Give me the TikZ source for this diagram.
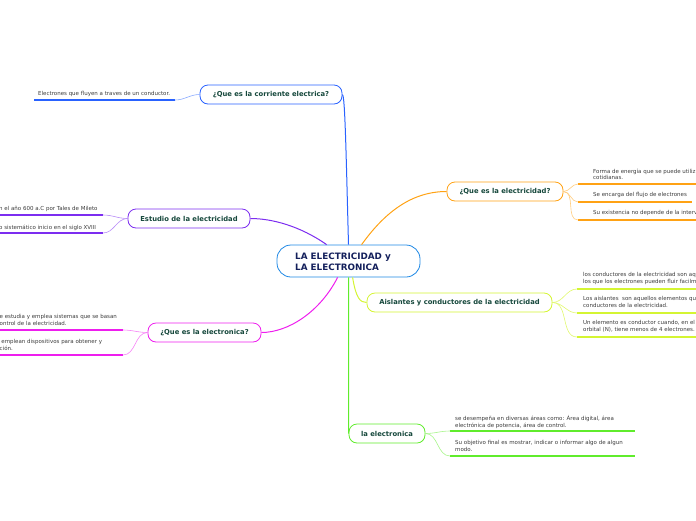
\documentclass[tikz,border=0pt]{standalone}
\usepackage{fontspec}
\setmainfont{DejaVu Sans}
\usetikzlibrary{positioning,calc}
\definecolor{azulcentro}{RGB}{30,136,229}
\definecolor{azul}{RGB}{41,98,255}
\definecolor{morado}{RGB}{124,45,240}
\definecolor{magenta}{RGB}{238,30,238}
\definecolor{naranja}{RGB}{255,162,20}
\definecolor{lima}{RGB}{212,245,50}
\definecolor{verde}{RGB}{96,236,44}
\definecolor{textotema}{RGB}{22,72,60}
\definecolor{textocentro}{RGB}{20,32,92}
\definecolor{textohoja}{RGB}{60,60,60}

\begin{document}
\begin{tikzpicture}[x=1pt, y=-1pt,
  tema/.style={draw, rounded corners=8pt, line width=0.8pt, fill=white,
    minimum height=19pt, inner sep=0pt, text=textotema,
    font=\fontsize{6.8}{8}\selectfont\bfseries},
  hoja/.style={anchor=north west, align=left, inner sep=0pt, text=textohoja,
    font=\fontsize{5.5}{6.6}\selectfont},
  rama/.style={line width=1pt},
  ramita/.style={line width=0.6pt},
  raya/.style={line width=1.3pt}]
  \useasboundingbox (0,0) rectangle (696,520);

  % nodo central
  \node[draw=azulcentro, line width=0.8pt, rounded corners=14pt, fill=white,
    minimum width=143pt, minimum height=32pt, inner sep=0pt]
    (centro) at (348.5,261) {};
  \node[anchor=west, align=left, inner sep=0pt, text=textocentro,
    font=\fontsize{8.8}{11}\selectfont\bfseries]
    (titulo) at (295,261.5) {LA ELECTRICIDAD y\\LA ELECTRONICA};

  % temas
  \node[tema, draw=azul, minimum width=142pt] (corriente) at (271,94.5) {¿Que es la corriente electrica?};
  \node[tema, draw=morado, minimum width=122pt] (estudio) at (189,218.5) {Estudio de la electricidad};
  \node[tema, draw=magenta, minimum width=113pt] (electronicaq) at (204.5,332.5) {¿Que es la electronica?};
  \node[tema, draw=naranja, minimum width=116pt] (electricidadq) at (505,191.5) {¿Que es la electricidad?};
  \node[tema, draw=lima, minimum width=185pt] (aislantes) at (459.5,302.5) {Aislantes y conductores de la electricidad};
  \node[tema, draw=verde, minimum width=76pt] (laelectronica) at (387,433.5) {la electronica};

  % ramas desde el centro
  \draw[rama, azul] (centro.north) .. controls (346,150) and (345,96) .. (corriente.east);
  \draw[rama, morado] ($(centro.north west)+(50,0)$) .. controls (300,226) and (272,218.5) .. (estudio.east);
  \draw[rama, naranja] ($(centro.north west)+(85,0)$) .. controls (385,212) and (412,191.5) .. (electricidadq.west);
  \draw[rama, magenta] ($(centro.south west)+(61,0)$) .. controls (320,312) and (288,332.5) .. (electronicaq.east);
  \draw[rama, lima] ($(centro.south west)+(76,0)$) .. controls (356,298) and (360,302.5) .. (aislantes.west);
  \draw[rama, verde] (centro.south) -- (laelectronica.west);

  % hojas: corriente
  \node[hoja] (h1) at (38,91.4) {Electrones que fluyen a traves de un conductor.};
  \coordinate (r1a) at (175,100); \coordinate (r1b) at (34,100);
  \draw[raya, azul] (r1a) -- (r1b);
  \draw[ramita, azul!55] (corriente.west) to[out=180, in=0] (r1a);

  % hojas: estudio
  \node[hoja] (h2) at (-1,206.4) {n el año 600 a.C por Tales de Mileto};
  \node[hoja] (h3) at (-1,224.4) {o sistemático inicio en el siglo XVIII};
  \coordinate (r2a) at (103,215); \coordinate (r2b) at (0,215);
  \coordinate (r3a) at (103,233); \coordinate (r3b) at (0,233);
  \draw[raya, morado] (r2a) -- (r2b);
  \draw[raya, morado] (r3a) -- (r3b);
  \draw[ramita, morado!55] (estudio.west) to[out=180, in=0] (r2a);
  \draw[ramita, morado!55] (estudio.west) to[out=180, in=0] (r3a);

  % hojas: que es la electronica
  \node[hoja] (h4) at (-0.5,314.4) {e estudia y emplea sistemas que se basan\\ontrol de la electricidad.};
  \node[hoja] (h5) at (-0.5,339.4) {\ emplean dispositivos para obtener y\\ción.};
  \coordinate (r4a) at (123,330); \coordinate (r4b) at (0,330);
  \coordinate (r5a) at (123,355); \coordinate (r5b) at (0,355);
  \draw[raya, magenta] (r4a) -- (r4b);
  \draw[raya, magenta] (r5a) -- (r5b);
  \draw[ramita, magenta!55] (electronicaq.west) to[out=180, in=0] (r4a);
  \draw[ramita, magenta!55] (electronicaq.west) to[out=180, in=0] (r5a);

  % hojas: que es la electricidad
  \node[hoja] (h6) at (593,168.4) {Forma de energía que se puede utiliz\\cotidianas.};
  \node[hoja] (h7) at (593,192.4) {Se encarga del flujo de electrones};
  \node[hoja] (h8) at (593,210.4) {Su existencia no depende de la interv};
  \coordinate (r6a) at (578,184); \coordinate (r6b) at (696,184);
  \coordinate (r7a) at (578,202); \coordinate (r7b) at (692,202);
  \coordinate (r8a) at (578,220); \coordinate (r8b) at (696,220);
  \draw[raya, naranja] (r6a) -- (r6b);
  \draw[raya, naranja] (r7a) -- (r7b);
  \draw[raya, naranja] (r8a) -- (r8b);
  \foreach \r in {r6a,r7a,r8a}
    \draw[ramita, naranja!55] (electricidadq.east) to[out=0, in=180] (\r);

  % hojas: aislantes y conductores
  \node[hoja] (h9) at (583,272.4) {los conductores de la electricidad son aqu\\los que los electrones pueden fluir facilm};
  \node[hoja] (h10) at (583,296.4) {Los aislantes\ \ son aquellos elementos qu\\conductores de la electricidad.};
  \node[hoja] (h11) at (583,320.4) {Un elemento es conductor cuando, en el\\orbital (N), tiene menos de 4 electrones.};
  \coordinate (r9a) at (577,289); \coordinate (r9b) at (696,289);
  \coordinate (r10a) at (577,313); \coordinate (r10b) at (696,313);
  \coordinate (r11a) at (577,337); \coordinate (r11b) at (696,337);
  \draw[raya, lima] (r9a) -- (r9b);
  \draw[raya, lima] (r10a) -- (r10b);
  \draw[raya, lima] (r11a) -- (r11b);
  \foreach \r in {r9a,r10a,r11a}
    \draw[ramita, lima!70] (aislantes.east) to[out=0, in=180] (\r);

  % hojas: la electronica
  \node[hoja] (h12) at (455,415.4) {se desempeña en diversas áreas como: Área digital, área\\electrónica de potencia, área de control.};
  \node[hoja] (h13) at (455,440.4) {Su objetivo final es mostrar, indicar o informar algo de algun\\modo.};
  \coordinate (r12a) at (450,431); \coordinate (r12b) at (635,431);
  \coordinate (r13a) at (450,456); \coordinate (r13b) at (635,456);
  \draw[raya, verde] (r12a) -- (r12b);
  \draw[raya, verde] (r13a) -- (r13b);
  \draw[ramita, verde!55] (laelectronica.east) to[out=0, in=180] (r12a);
  \draw[ramita, verde!55] (laelectronica.east) to[out=0, in=180] (r13a);
\end{tikzpicture}
\end{document}
